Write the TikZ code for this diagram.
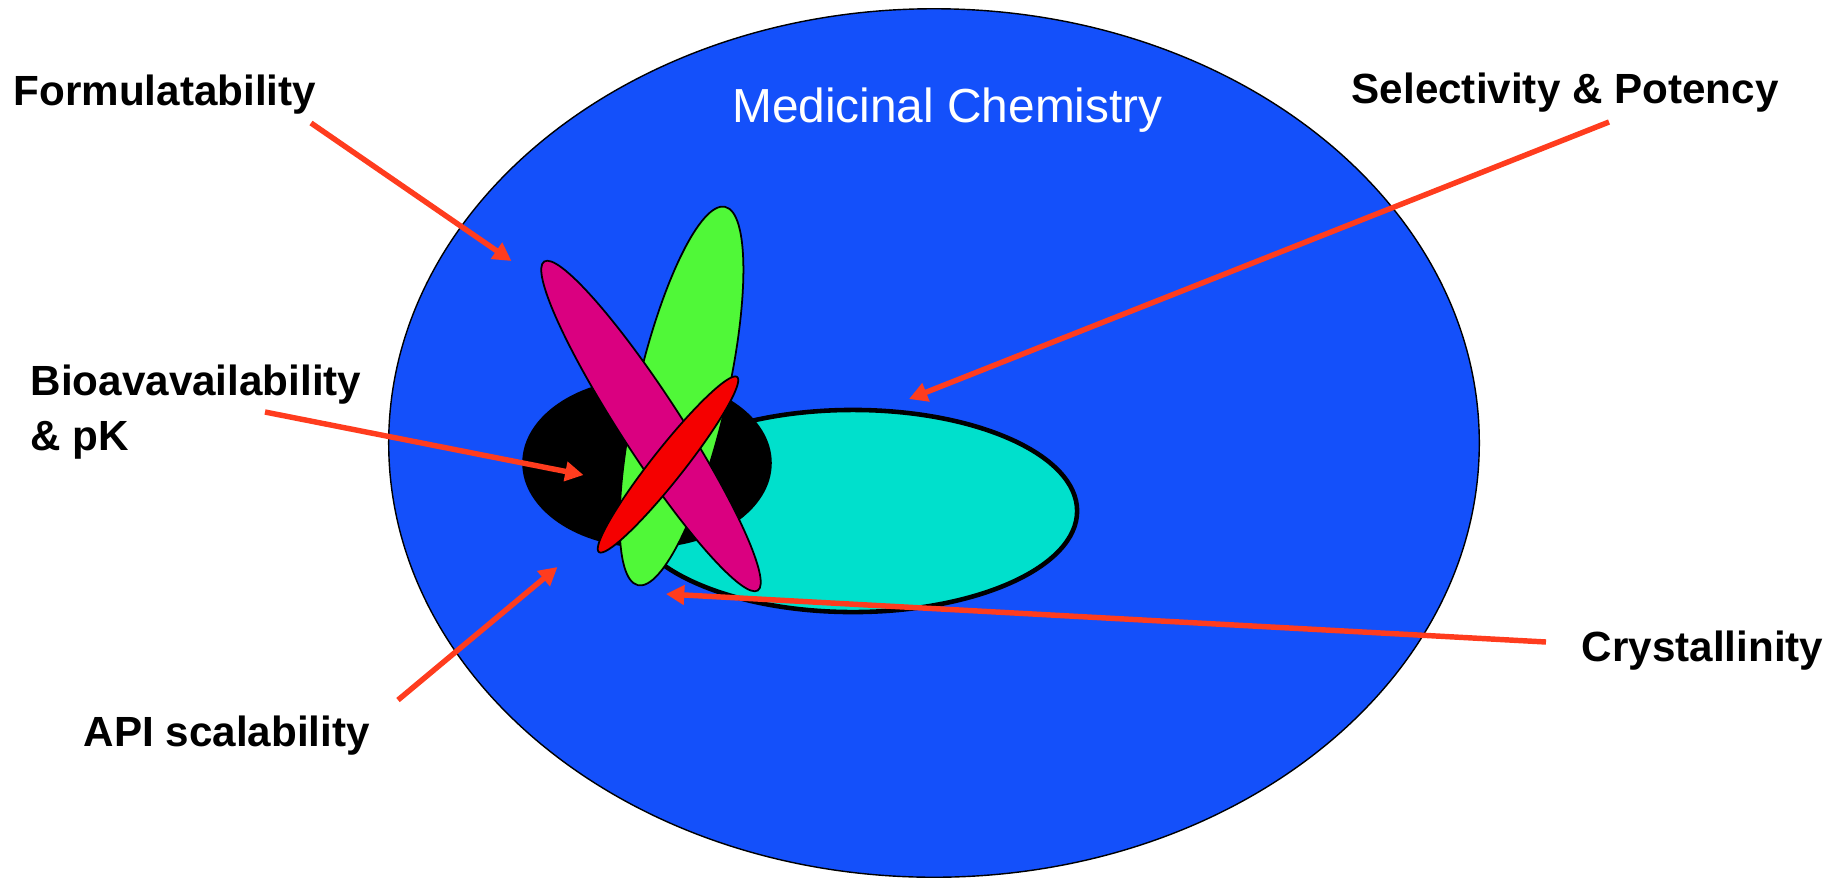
\documentclass[tikz,border=0pt]{standalone}
\usepackage{fontspec}
\setmainfont{Liberation Sans}
\usetikzlibrary{shapes.geometric,arrows.meta}
\definecolor{bigblue}{RGB}{20,80,250}
\definecolor{tealc}{RGB}{0,224,204}
\definecolor{greenc}{RGB}{80,248,56}
\definecolor{magc}{RGB}{218,0,128}
\definecolor{redc}{RGB}{245,0,0}
\definecolor{arrc}{RGB}{255,60,30}
\begin{document}
\begin{tikzpicture}[x=0.01cm,y=-0.01cm,
  blob/.style={ellipse,draw=black,inner sep=0pt,outer sep=0pt},
  lbl/.style={anchor=base west,inner sep=0pt,font=\fontsize{12}{15.6}\selectfont\bfseries,align=left},
  arr/.style={draw=arrc,line width=1.55pt,-{Triangle[length=5.2pt,width=5.4pt]}}]
\useasboundingbox (0,0) rectangle (1829,881);
% ellipses
\node[blob,fill=bigblue,line width=0.4pt,minimum width=10.90cm,minimum height=8.68cm] (med) at (934,443) {};
\node[blob,fill=tealc,line width=1.3pt,minimum width=4.48cm,minimum height=2.02cm] (teal) at (853,511) {};
\node[blob,fill=black,draw=black,line width=0.4pt,minimum width=2.48cm,minimum height=1.68cm] (blk) at (647,463) {};
\node[blob,fill=greenc,line width=0.5pt,minimum width=3.88cm,minimum height=0.90cm,rotate=77] (grn) at (681.5,396) {};
\node[blob,fill=magc,line width=0.5pt,minimum width=3.92cm,minimum height=0.60cm,rotate=-57] (mag) at (651,426) {};
\node[blob,fill=redc,line width=0.5pt,minimum width=2.23cm,minimum height=0.32cm,rotate=51.7] (rd) at (668,464.5) {};
% title
\node[anchor=base west,inner sep=0pt,text=white,font=\fontsize{13.6}{16}\selectfont] (title) at (731.5,122.7) {Medicinal Chemistry};
% labels
\node[lbl] (form) at (13,105) {Formulatability};
\node[lbl] (sel) at (1351,103.3) {Selectivity \& Potency};
\node[lbl] (bio) at (30,450) {Bioavavailability\\\& pK};
\node[lbl] (api) at (83,746.7) {API scalability};
\node[lbl] (cry) at (1581,661.7) {Crystallinity};
% arrow ends
\coordinate (formS) at (311,123);
\coordinate (formT) at (511.5,261);
\coordinate (selS) at (1609,122);
\coordinate (selT) at (909,399);
\coordinate (bioS) at (265,412);
\coordinate (bioT) at (583.5,475);
\coordinate (apiS) at (398,700);
\coordinate (apiT) at (557.5,567);
\coordinate (cryS) at (1546,642);
\coordinate (cryT) at (666,594);
\draw[arr] (formS) -- (formT);
\draw[arr] (selS) -- (selT);
\draw[arr] (bioS) -- (bioT);
\draw[arr] (apiS) -- (apiT);
\draw[arr] (cryS) -- (cryT);
\end{tikzpicture}
\end{document}
